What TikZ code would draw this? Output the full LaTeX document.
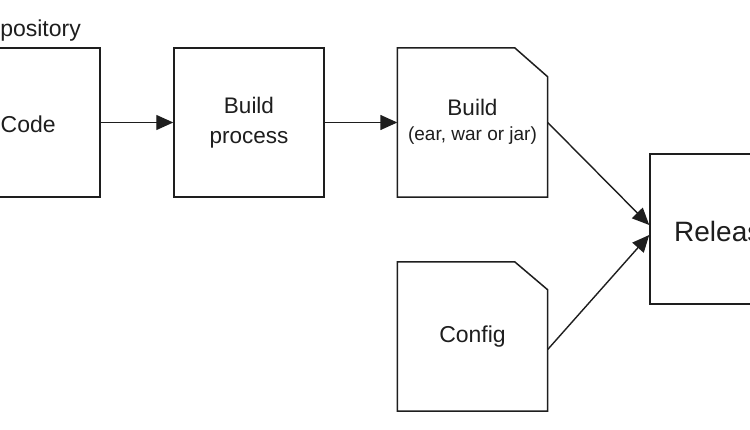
\documentclass[tikz,border=0pt]{standalone}
\usepackage{fontspec}
\setmainfont{Liberation Sans}
\usetikzlibrary{arrows.meta,calc}
\definecolor{ink}{HTML}{1E1E1E}
\begin{document}
\begin{tikzpicture}[x=1pt,y=-1pt,
  box/.style={draw=ink,line width=1.5pt,minimum width=150pt,minimum height=149pt,inner sep=0pt,text=ink,align=center},
  ghost/.style={draw=none,minimum width=150pt,minimum height=149pt,inner sep=0pt,text=ink,align=center},
  cut/.style={draw=ink,line width=1.5pt,line join=miter},
  arr/.style={draw=ink,line width=1.4pt,-{Triangle[length=17pt,width=15pt]}},
  lbl/.style={text=ink,inner sep=0pt}]
\useasboundingbox (0,0) rectangle (750,430);
\clip (0,0) rectangle (750,430);
\fill[white] (0,0) rectangle (750,430);
% Repository code box
\node[box,minimum width=160pt] (code) at (20,122.5) {};
\node[lbl,anchor=west,font=\fontsize{23}{27}\selectfont] (codetxt) at (0.5,124) {Code};
\node[lbl,anchor=base east,font=\fontsize{23}{27}\selectfont] (repo) at (81,37) {Repository};
% Build process
\node[box,font=\fontsize{22.5}{30}\selectfont] (bp) at (249,122.5) {Build\\process};
% Build artifact (cut corner)
\node[ghost] (ba) at (472.5,122.5) {};
\draw[cut] (ba.north west) -- ($(ba.north east)+(-33,0)$) -- ($(ba.north east)+(0,29)$) -- (ba.south east) -- (ba.south west) -- cycle;
\node[lbl,font=\fontsize{22.5}{27}\selectfont] (batxt) at (472.5,107) {Build};
\node[lbl,font=\fontsize{19}{23}\selectfont] (basub) at (472.5,136) {(ear, war or jar)};
% Config (cut corner)
\node[ghost,font=\fontsize{23}{27}\selectfont] (cfg) at (472.5,336.5) {Config};
\draw[cut] (cfg.north west) -- ($(cfg.north east)+(-33,0)$) -- ($(cfg.north east)+(0,28)$) -- (cfg.south east) -- (cfg.south west) -- cycle;
% Release
\node[box,minimum height=150pt] (rel) at (725,229) {};
\node[lbl,anchor=west,font=\fontsize{28}{33}\selectfont] (reltxt) at (674,231) {Release};
% connectors
\coordinate (relA) at ($(rel.west)+(0,-4)$);
\coordinate (relB) at ($(rel.west)+(0,6)$);
\coordinate (baOut) at ($(ba.east)+(0,0)$);
\coordinate (cfgOut) at ($(cfg.east)+(0,13)$);
\draw[arr] (code.east) -- (bp.west);
\draw[arr] (bp.east) -- (ba.west);
\draw[arr] (baOut) -- (relA);
\draw[arr] (cfgOut) -- (relB);
\end{tikzpicture}
\end{document}
